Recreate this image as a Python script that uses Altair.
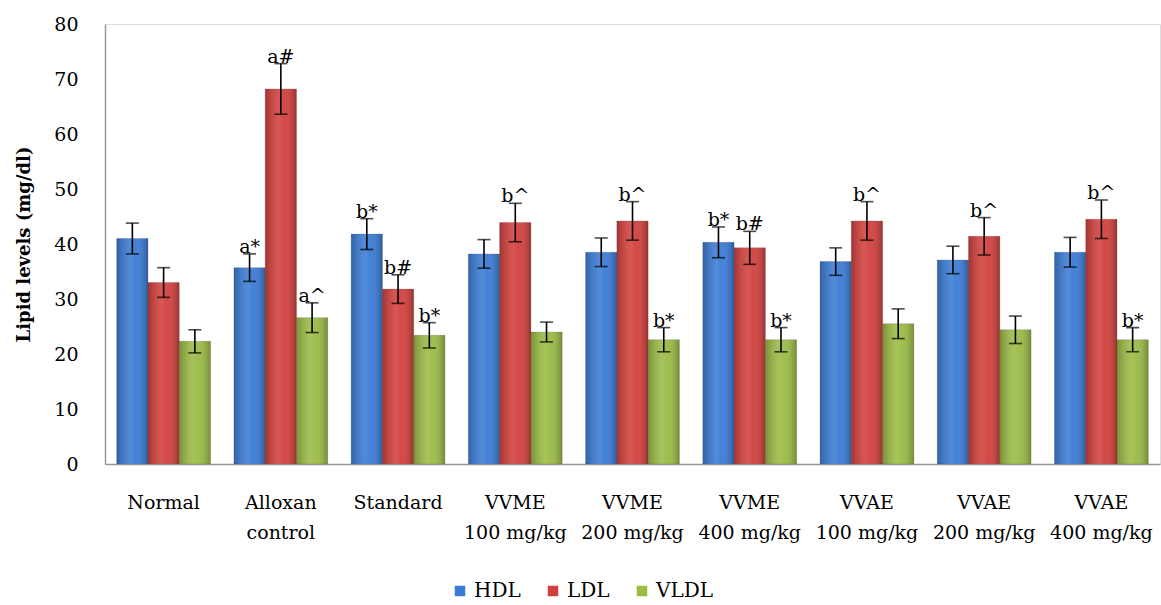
import altair as alt
import pandas as pd

groups = ["Normal", "Alloxan|control", "Standard", "VVME|100 mg/kg", "VVME|200 mg/kg",
          "VVME|400 mg/kg", "VVAE|100 mg/kg", "VVAE|200 mg/kg", "VVAE|400 mg/kg"]
series = ["HDL", "LDL", "VLDL"]
hdl = [41.0, 35.7, 41.8, 38.2, 38.5, 40.3, 36.8, 37.1, 38.5]
hdl_err = [2.8, 2.5, 2.8, 2.6, 2.6, 2.8, 2.5, 2.5, 2.7]
ldl = [33.0, 68.2, 31.8, 43.9, 44.2, 39.3, 44.2, 41.4, 44.5]
ldl_err = [2.7, 4.6, 2.6, 3.5, 3.5, 3.0, 3.5, 3.4, 3.5]
vldl = [22.3, 26.6, 23.4, 24.0, 22.6, 22.6, 25.5, 24.4, 22.6]
vldl_err = [2.1, 2.7, 2.3, 1.8, 2.2, 2.2, 2.7, 2.5, 2.2]
hdl_sig = ["", "a*", "b*", "", "", "b*", "", "", ""]
ldl_sig = ["", "a#", "b#", "b^", "b^", "b#", "b^", "b^", "b^"]
vldl_sig = ["", "a^", "b*", "", "b*", "b*", "", "", "b*"]
colors = ["#3a7bd5", "#d2403c", "#9bbb45"]

rows = []
for s, vals, errs, sigs in zip(series, [hdl, ldl, vldl], [hdl_err, ldl_err, vldl_err],
                               [hdl_sig, ldl_sig, vldl_sig]):
    for g, v, e, t in zip(groups, vals, errs, sigs):
        rows.append({"group": g, "series": s, "value": v, "lo": v - e, "hi": v + e, "sig": t})
df = pd.DataFrame(rows)

FONT = "DejaVu Serif"

x = alt.X("group:N", sort=groups, title=None,
          scale=alt.Scale(paddingInner=0.2, paddingOuter=0.1),
          axis=alt.Axis(labelAngle=0, labelExpr="split(datum.label, '|')",
                        labelFont=FONT, labelFontSize=19, labelColor="#000",
                        labelLineHeight=30, labelPadding=29, ticks=False,
                        domainColor="#999", domainWidth=1.5, labelBaseline="top"))
xoff = alt.XOffset("series:N", sort=series)
yscale = alt.Scale(domain=[0, 80])

bars = alt.Chart(df).mark_bar(stroke="#555", strokeWidth=0.4, strokeOpacity=0.6).encode(
    x=x, xOffset=xoff,
    y=alt.Y("value:Q", scale=yscale, title="Lipid levels (mg/dl)",
            axis=alt.Axis(values=list(range(0, 81, 10)), grid=False, ticks=False,
                          labelFont=FONT, labelFontSize=19, labelColor="#000",
                          labelPadding=27, domainColor="#999", domainWidth=1.5,
                          titleFont=FONT, titleFontSize=18, titleFontWeight="bold",
                          titleColor="#000", titlePadding=20)),
    color=alt.Color("series:N", sort=series,
                    scale=alt.Scale(domain=series, range=colors),
                    legend=alt.Legend(title=None, orient="none", direction="horizontal",
                                      legendX=345, legendY=557, symbolType="square",
                                      symbolSize=110, symbolStrokeWidth=0,
                                      labelFont=FONT, labelFontSize=20, labelColor="#000",
                                      columnPadding=22, symbolOffset=0, labelOffset=4)),
)

shade = alt.Chart(df).mark_bar(
    color=alt.Gradient(gradient="linear", x1=0, x2=1, y1=0, y2=0,
                       stops=[alt.GradientStop(color="rgba(0,0,0,0.22)", offset=0),
                              alt.GradientStop(color="rgba(255,255,255,0.12)", offset=0.45),
                              alt.GradientStop(color="rgba(255,255,255,0.05)", offset=0.6),
                              alt.GradientStop(color="rgba(0,0,0,0.25)", offset=1)])
).encode(x=x, xOffset=xoff, y=alt.Y("value:Q", scale=yscale))

rules = alt.Chart(df).mark_rule(color="#000", strokeWidth=1.6).encode(
    x=x, xOffset=xoff, y=alt.Y("lo:Q", scale=yscale), y2="hi:Q")
cap_hi = alt.Chart(df).mark_tick(color="#000", thickness=1.6, size=13).encode(
    x=x, xOffset=xoff, y=alt.Y("hi:Q", scale=yscale))
cap_lo = alt.Chart(df).mark_tick(color="#000", thickness=1.6, size=13).encode(
    x=x, xOffset=xoff, y=alt.Y("lo:Q", scale=yscale))
labels = alt.Chart(df).mark_text(font=FONT, fontSize=19, color="#000",
                                 baseline="bottom", dy=3).encode(
    x=x, xOffset=xoff, y=alt.Y("hi:Q", scale=yscale), text="sig:N")

chart = alt.layer(bars, shade, rules, cap_hi, cap_lo, labels).properties(
    width=1055, height=440,
    autosize=alt.AutoSizeParams(type="none"),
    padding={"left": 105, "top": 24, "right": 1, "bottom": 141},
).configure_view(stroke="transparent", strokeWidth=0).configure(background="white")

chart.save("out.html", embed_options={"renderer": "svg", "actions": False})
